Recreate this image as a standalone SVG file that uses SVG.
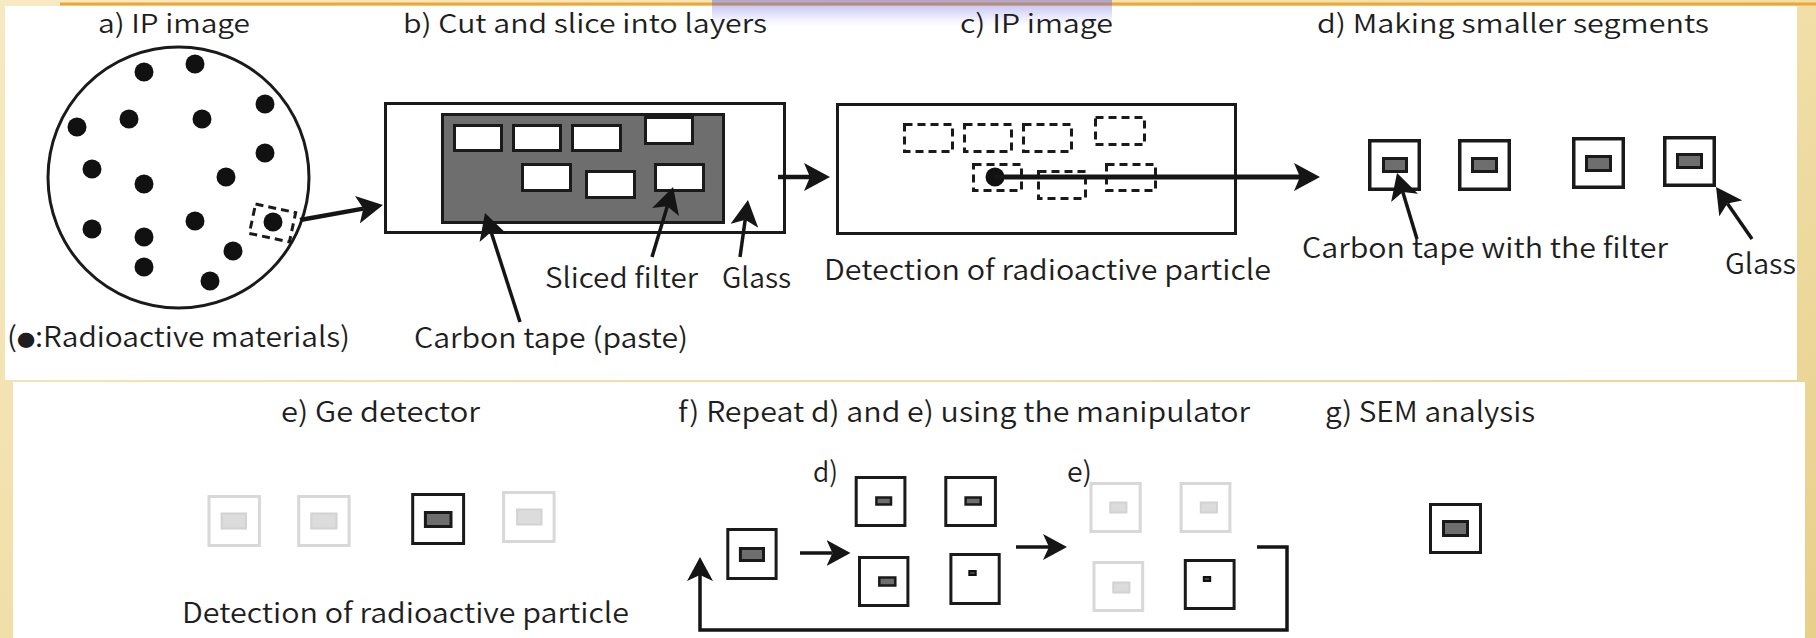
<svg xmlns="http://www.w3.org/2000/svg" width="1816" height="638" viewBox="0 0 1816 638">
<defs>
<linearGradient id="paper" x1="0" y1="0" x2="1" y2="1">
<stop offset="0" stop-color="#f7eac2"/>
<stop offset="0.5" stop-color="#f1dfa8"/>
<stop offset="1" stop-color="#e8cf8a"/>
</linearGradient>
<linearGradient id="wm" x1="0" y1="0" x2="0" y2="1">
<stop offset="0" stop-color="#5a5ae0" stop-opacity="0.45"/>
<stop offset="0.5" stop-color="#7c7cec" stop-opacity="0.25"/>
<stop offset="1" stop-color="#a0a0f4" stop-opacity="0"/>
</linearGradient>
<marker id="ah" viewBox="0 0 26 28" refX="6" refY="14" markerWidth="26" markerHeight="28" markerUnits="userSpaceOnUse" orient="auto">
<path d="M0,0 L26,14 L0,28 L6,14 z" fill="#151515"/>
</marker>
<marker id="as" viewBox="0 0 24 26" refX="6" refY="13" markerWidth="24" markerHeight="26" markerUnits="userSpaceOnUse" orient="auto">
<path d="M0,0 L24,13 L0,26 L6,13 z" fill="#151515"/>
</marker>
<style>
text{font-family:"Noto Sans CJK JP","Noto Sans",sans-serif;font-weight:350;fill:#1e1e1e}
.t{font-size:26px}
.l{font-size:28px}
.b{font-size:28px}
.k{fill:none;stroke:#1a1a1a;stroke-width:3}
.w{fill:#fff;stroke:#1a1a1a;stroke-width:3}
.g{fill:#6e6e6e;stroke:#1a1a1a;stroke-width:3}
.sq{fill:#fff;stroke:#1a1a1a;stroke-width:3.5}
.lt{fill:#fff;stroke:#d8d8d8;stroke-width:3}
.lti{fill:#dcdcdc;stroke:#d2d2d2;stroke-width:2}
.d{fill:none;stroke:#1a1a1a;stroke-width:3;stroke-dasharray:8 5}
.dot{fill:#111}
.c{fill:none;stroke:#151515;stroke-width:3.5}
</style>
</defs>
<g id="background">
<rect x="0" y="0" width="1816" height="638" fill="url(#paper)"/>
<rect x="60" y="2.5" width="1756" height="3" fill="#f0a534"/>
<rect x="5" y="6" width="1792" height="374" fill="#fff"/>
<rect x="13" y="382" width="1792" height="256" fill="#fff"/>
<rect x="712" y="0" width="400" height="26" fill="url(#wm)"/>
</g>

<g id="panel-a">
<text class="t" x="98" y="33" textLength="152" lengthAdjust="spacingAndGlyphs">a) IP image</text>
<circle cx="178.5" cy="177.5" r="130.5" class="k"/>
<g class="dot">
<circle cx="144" cy="72" r="9.5"/><circle cx="195" cy="64" r="9.5"/><circle cx="265" cy="104" r="9.5"/>
<circle cx="77" cy="127" r="9.5"/><circle cx="129" cy="119" r="9.5"/><circle cx="202" cy="119" r="9.5"/>
<circle cx="265" cy="153" r="9.5"/><circle cx="92" cy="169" r="9.5"/><circle cx="144" cy="184" r="9.5"/>
<circle cx="226" cy="177" r="9.5"/><circle cx="92" cy="229" r="9.5"/><circle cx="195" cy="221" r="9.5"/>
<circle cx="144" cy="237" r="9.5"/><circle cx="273" cy="222" r="9.5"/><circle cx="233" cy="251" r="9.5"/>
<circle cx="144" cy="267" r="9.5"/><circle cx="210" cy="281" r="9.5"/>
</g>
<rect x="252" y="208" width="41" height="30" class="d" transform="rotate(12 272.5 223)"/>
<text class="l" x="7" y="347" font-size="27" textLength="343" lengthAdjust="spacingAndGlyphs">(<tspan font-size="17">●</tspan>:Radioactive materials)</text>
</g>

<g id="panel-b">
<text class="t" x="403" y="33" textLength="364" lengthAdjust="spacingAndGlyphs">b) Cut and slice into layers</text>
<rect x="385.5" y="103.5" width="399" height="129" class="w"/>
<rect x="442.5" y="114.5" width="281" height="108" class="g"/>
<rect x="454.5" y="125.5" width="47" height="25" class="w"/>
<rect x="513.5" y="125.5" width="47" height="25" class="w"/>
<rect x="572.5" y="125.5" width="48" height="25" class="w"/>
<rect x="645.5" y="117.5" width="47" height="26" class="w"/>
<rect x="522.5" y="164.5" width="48" height="26" class="w"/>
<rect x="586.5" y="171.5" width="48" height="26" class="w"/>
<rect x="655.5" y="164.5" width="48" height="26" class="w"/>
<text class="l" x="545" y="288" textLength="153" lengthAdjust="spacingAndGlyphs">Sliced filter</text>
<text class="l" x="722" y="288" textLength="69" lengthAdjust="spacingAndGlyphs">Glass</text>
<text class="l" x="414" y="348" font-size="29" textLength="274" lengthAdjust="spacingAndGlyphs">Carbon tape (paste)</text>
</g>

<g id="panel-c">
<text class="t" x="960" y="33" textLength="153" lengthAdjust="spacingAndGlyphs">c) IP image</text>
<rect x="837.5" y="104.5" width="398" height="129" class="k"/>
<rect x="904.5" y="124.5" width="48" height="27" class="d"/>
<rect x="964.5" y="124.5" width="47" height="27" class="d"/>
<rect x="1023.5" y="124.5" width="48" height="27" class="d"/>
<rect x="1095.5" y="117.5" width="49" height="27" class="d"/>
<rect x="973.5" y="164.5" width="48" height="26" class="d"/>
<rect x="1038.5" y="171.5" width="47" height="27" class="d"/>
<rect x="1106.5" y="164.5" width="49" height="26" class="d"/>
<circle cx="995" cy="177" r="9.5" class="dot"/>
<text class="l" x="824" y="280" font-size="29" textLength="447" lengthAdjust="spacingAndGlyphs">Detection of radioactive particle</text>
</g>

<g id="panel-d">
<text class="t" x="1317" y="33" textLength="392" lengthAdjust="spacingAndGlyphs">d) Making smaller segments</text>
<rect x="1369.75" y="140.75" width="49.5" height="48.5" class="sq"/>
<rect x="1459.75" y="140.75" width="49.5" height="48.5" class="sq"/>
<rect x="1573.75" y="138.75" width="49.5" height="48.5" class="sq"/>
<rect x="1664.75" y="137.75" width="49.5" height="47.5" class="sq"/>
<rect x="1383.5" y="158.5" width="23" height="13" class="g"/>
<rect x="1472.5" y="158.5" width="24" height="13" class="g"/>
<rect x="1586.5" y="156.5" width="24" height="14" class="g"/>
<rect x="1677.5" y="154.5" width="24" height="13" class="g"/>
<text class="l" x="1302" y="258" textLength="366" lengthAdjust="spacingAndGlyphs">Carbon tape with the filter</text>
<text class="l" x="1725" y="274" textLength="71" lengthAdjust="spacingAndGlyphs">Glass</text>
</g>

<g id="panel-e">
<text class="b" x="281" y="422" textLength="199" lengthAdjust="spacingAndGlyphs">e) Ge detector</text>
<rect x="209" y="496.5" width="50.5" height="49" class="lt"/>
<rect x="298.7" y="496.5" width="50.4" height="49" class="lt"/>
<rect x="412.7" y="494.5" width="50.9" height="49" class="w"/>
<rect x="503.6" y="492.5" width="50.5" height="49" class="lt"/>
<rect x="221.6" y="513.5" width="24.4" height="15" class="lti"/>
<rect x="311.3" y="513.5" width="25.2" height="15" class="lti"/>
<rect x="425.4" y="512.5" width="25.6" height="14" class="g"/>
<rect x="517.1" y="509.5" width="24.4" height="15" class="lti"/>
<text class="b" x="182" y="623" font-size="31" textLength="447" lengthAdjust="spacingAndGlyphs">Detection of radioactive particle</text>
</g>

<g id="panel-f">
<text class="b" x="678" y="422" textLength="572" lengthAdjust="spacingAndGlyphs">f) Repeat d) and e) using the manipulator</text>
<text class="b" x="813" y="482" textLength="25" lengthAdjust="spacingAndGlyphs">d)</text>
<text class="b" x="1067" y="482" textLength="25" lengthAdjust="spacingAndGlyphs">e)</text>
<rect x="727.8" y="529.5" width="48.3" height="49" class="w"/>
<rect x="740.4" y="548.5" width="23.1" height="12" class="g"/>
<rect x="856.2" y="477.5" width="48.7" height="48" class="w"/>
<rect x="876.4" y="497.5" width="14.6" height="7" class="g" style="stroke-width:2.5"/>
<rect x="945.8" y="477.5" width="49.6" height="48" class="w"/>
<rect x="965.6" y="497.5" width="15.1" height="7" class="g" style="stroke-width:2.5"/>
<rect x="859.5" y="557.5" width="48.4" height="48" class="w"/>
<rect x="879.3" y="577.5" width="16" height="8" class="g" style="stroke-width:2.5"/>
<rect x="950.9" y="554.5" width="48.3" height="49" class="w"/>
<rect x="969.3" y="571" width="6.4" height="4" fill="#444" stroke="#111" stroke-width="2"/>
<rect x="1091" y="483.5" width="49.2" height="48" class="lt"/>
<rect x="1110.3" y="502.5" width="16.1" height="10" class="lti"/>
<rect x="1181.1" y="483.5" width="48.8" height="48" class="lt"/>
<rect x="1200.8" y="502.5" width="16.1" height="10" class="lti"/>
<rect x="1094" y="562.5" width="48.7" height="48" class="lt"/>
<rect x="1113.3" y="582.5" width="16.1" height="10" class="lti"/>
<rect x="1185.3" y="560.5" width="48.8" height="48" class="w"/>
<rect x="1203.8" y="577" width="6.4" height="4" fill="#444" stroke="#111" stroke-width="2"/>
</g>

<g id="panel-g">
<text class="b" x="1325" y="422" textLength="210" lengthAdjust="spacingAndGlyphs">g) SEM analysis</text>
<rect x="1430.5" y="504.5" width="50" height="48" class="w"/>
<rect x="1443.5" y="521.5" width="24" height="14" class="g"/>
</g>

<g id="connectors">
<line x1="300" y1="220" x2="363.3" y2="208.6" class="c" style="stroke-width:4.5" marker-end="url(#ah)"/>
<line x1="778" y1="177" x2="810" y2="177" class="c" style="stroke-width:4.5" marker-end="url(#ah)"/>
<line x1="995" y1="177" x2="1300" y2="177" class="c" style="stroke-width:5" marker-end="url(#ah)"/>
<line x1="520" y1="322" x2="491.1" y2="232" class="c" marker-end="url(#ah)"/>
<line x1="652" y1="257" x2="667.3" y2="206.2" class="c" marker-end="url(#ah)"/>
<line x1="740" y1="257" x2="745.2" y2="219.8" class="c" marker-end="url(#ah)"/>
<line x1="1417" y1="239" x2="1402.8" y2="192.1" class="c" marker-end="url(#ah)"/>
<line x1="1752" y1="239" x2="1727.4" y2="203.4" class="c" marker-end="url(#ah)"/>
<line x1="800" y1="553" x2="832.5" y2="553" class="c" marker-end="url(#as)"/>
<line x1="1016" y1="547" x2="1049" y2="547" class="c" marker-end="url(#as)"/>
<polyline points="1257,547 1287,547 1287,630 700,630 700,575" class="c" marker-end="url(#as)"/>
</g>
</svg>
